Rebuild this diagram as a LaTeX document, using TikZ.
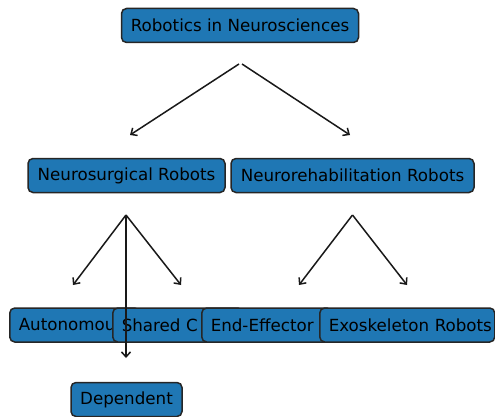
\documentclass[tikz,border=0pt]{standalone}
\usepackage{fontspec}
\setmainfont{DejaVu Sans}
\usetikzlibrary{arrows.meta}
\definecolor{mplblue}{HTML}{1F77B4}
\tikzset{
  box/.style={draw=black!85, fill=mplblue, line width=1.5pt, rounded corners=5pt,
    minimum height=34pt, inner sep=0pt, text=black,
    font=\fontsize{16.7}{20}\selectfont},
  lbox/.style={box, anchor=west, inner xsep=9pt, align=left},
  conn/.style={draw=black!90, line width=1.5pt, -{Straight Barb[length=5pt,width=9pt,line width=1.5pt]}}
}
\begin{document}
\begin{tikzpicture}[x=1pt,y=-1pt]
\clip (0,0) rectangle (495,417);
\fill[white] (0,0) rectangle (495,417);
% boxes
\node[box, minimum width=237pt] (root) at (240,25.5) {Robotics in Neurosciences};
\node[box, minimum width=197pt] (surg) at (126.5,175.5) {Neurosurgical Robots};
\node[box, minimum width=243pt] (rehab) at (352.5,175.5) {Neurorehabilitation Robots};
\node[lbox, text width=112pt] (auto) at (9,325) {Autonomou};
\node[lbox, text width=112pt] (shared) at (112,325) {Shared C};
\node[lbox, text width=112pt] (endeff) at (201,325) {End-Effector};
\node[lbox, text width=157pt] (exo) at (319,325) {\mbox{Exoskeleton Robots}};
\node[box, minimum width=111pt] (dep) at (126.5,399.5) {Dependent};
% arrow end points
\coordinate (rootL) at (239,64);
\coordinate (rootR) at (242,64);
\coordinate (surgIn) at (130,135);
\coordinate (rehabIn) at (350,135);
\coordinate (surgOut) at (126,215);
\coordinate (rehabOut) at (352.5,215);
\coordinate (autoIn) at (73,285);
\coordinate (sharedIn) at (181,285);
\coordinate (depIn) at (126,358);
\coordinate (endeffIn) at (299,285);
\coordinate (exoIn) at (407,285);
% connectors
\draw[conn] (rootL) -- (surgIn);
\draw[conn] (rootR) -- (rehabIn);
\draw[conn] (surgOut) -- (autoIn);
\draw[conn] (surgOut) -- (sharedIn);
\draw[conn] (surgOut) -- (depIn);
\draw[conn] (rehabOut) -- (endeffIn);
\draw[conn] (rehabOut) -- (exoIn);
\end{tikzpicture}
\end{document}
